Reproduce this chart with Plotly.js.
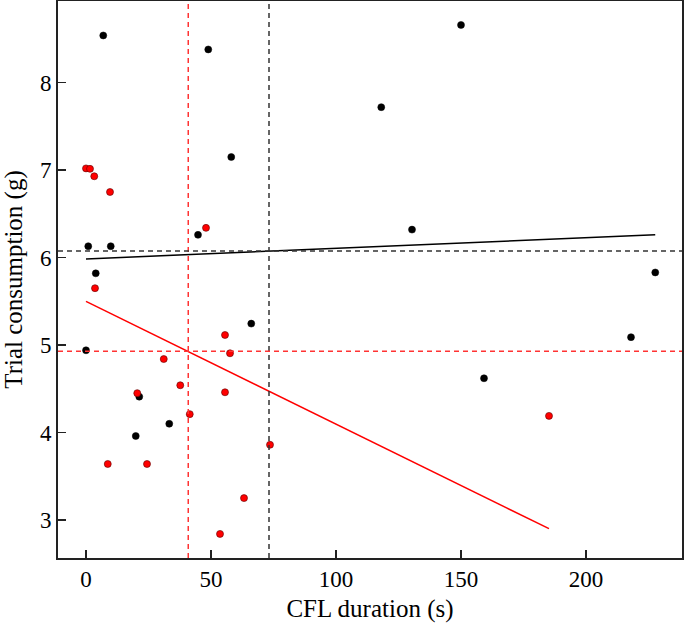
<!DOCTYPE html>
<html>
<head>
<meta charset="utf-8">
<script src="https://cdn.plot.ly/plotly-3.0.1.min.js"></script>
<style>html,body{margin:0;padding:0;background:#fff;}#chart{width:684px;height:623px;}</style>
</head>
<body>
<div id="chart"></div>
<script>
// Black group
const blackX = [6.9, 48.9, 150.0, 118.1, 58.1, 130.4, 44.8, 0.9, 9.9, 3.9, 227.7, 66.1, 218.0, 0.0, 159.2, 21.3, 19.9, 33.3];
const blackY = [8.54, 8.38, 8.66, 7.72, 7.15, 6.32, 6.26, 6.13, 6.13, 5.82, 5.83, 5.245, 5.09, 4.94, 4.62, 4.41, 3.96, 4.10];
// Red group
const redX = [0.0, 1.6, 3.3, 9.6, 3.6, 48.0, 31.1, 37.7, 20.5, 41.5, 8.7, 24.4, 53.6, 55.6, 57.6, 55.6, 73.6, 63.2, 185.2];
const redY = [7.02, 7.015, 6.93, 6.75, 5.65, 6.34, 4.84, 4.54, 4.45, 4.21, 3.64, 3.64, 2.84, 5.115, 4.906, 4.46, 3.86, 3.25, 4.19];
// Fitted lines (endpoints)
const blackFitX = [0.0, 227.7];
const blackFitY = [5.985, 6.26];
const redFitX = [0.0, 185.2];
const redFitY = [5.50, 2.90];
// Means (dashed reference lines)
const blackMeanX = 73.2, blackMeanY = 6.076;
const redMeanX = 40.9, redMeanY = 4.93;

const xTicks = [0, 50, 100, 150, 200];
const yTicks = [3, 4, 5, 6, 7, 8];

const FONT = "Liberation Serif, DejaVu Serif, serif";

const traces = [
  {x: blackFitX, y: blackFitY, mode: 'lines', line: {color: '#000', width: 1.5}, hoverinfo: 'skip'},
  {x: redFitX, y: redFitY, mode: 'lines', line: {color: '#ff0000', width: 1.5}, hoverinfo: 'skip'},
  {x: blackX, y: blackY, mode: 'markers', marker: {color: '#000', size: 7, line: {color: '#000', width: 0.5}}},
  {x: redX, y: redY, mode: 'markers', marker: {color: '#ff0000', size: 7, line: {color: '#5a0000', width: 0.6}}}
];

const dash = '5px,4px';
const shapes = [
  {type: 'line', xref: 'x', yref: 'paper', x0: redMeanX, x1: redMeanX, y0: 0, y1: 1, line: {color: '#ff3333', width: 1.5, dash: dash}},
  {type: 'line', xref: 'x', yref: 'paper', x0: blackMeanX, x1: blackMeanX, y0: 0, y1: 1, line: {color: '#333', width: 1.5, dash: dash}},
  {type: 'line', xref: 'paper', yref: 'y', x0: 0, x1: 1, y0: redMeanY, y1: redMeanY, line: {color: '#ff3333', width: 1.5, dash: dash}},
  {type: 'line', xref: 'paper', yref: 'y', x0: 0, x1: 1, y0: blackMeanY, y1: blackMeanY, line: {color: '#333', width: 1.5, dash: dash}}
];

const layout = {
  width: 684, height: 623,
  margin: {l: 58, r: 2, t: 1, b: 65},
  paper_bgcolor: '#fff', plot_bgcolor: '#fff',
  showlegend: false,
  font: {family: FONT, size: 23, color: '#000'},
  shapes: shapes,
  xaxis: {
    range: [-11.2, 238.4], tickvals: xTicks, ticktext: xTicks.map(String),
    ticks: 'inside', ticklen: 8, tickwidth: 1.5, tickcolor: '#222',
    showline: true, linecolor: '#222', linewidth: 1.8, mirror: true,
    showgrid: false, zeroline: false,
    tickfont: {family: FONT, size: 23},
    title: {text: 'CFL duration (s)', font: {family: FONT, size: 25}, standoff: 8}
  },
  yaxis: {
    range: [2.565, 8.934], tickvals: yTicks, ticktext: yTicks.map(String),
    ticks: 'inside', ticklen: 8, tickwidth: 1.5, tickcolor: '#222',
    showline: true, linecolor: '#222', linewidth: 1.8, mirror: true,
    showgrid: false, zeroline: false,
    tickfont: {family: FONT, size: 23},
    title: {text: 'Trial consumption (g)', font: {family: FONT, size: 25}, standoff: 10}
  }
};

Plotly.newPlot('chart', traces, layout, {displayModeBar: false, staticPlot: true});
</script>
</body>
</html>
